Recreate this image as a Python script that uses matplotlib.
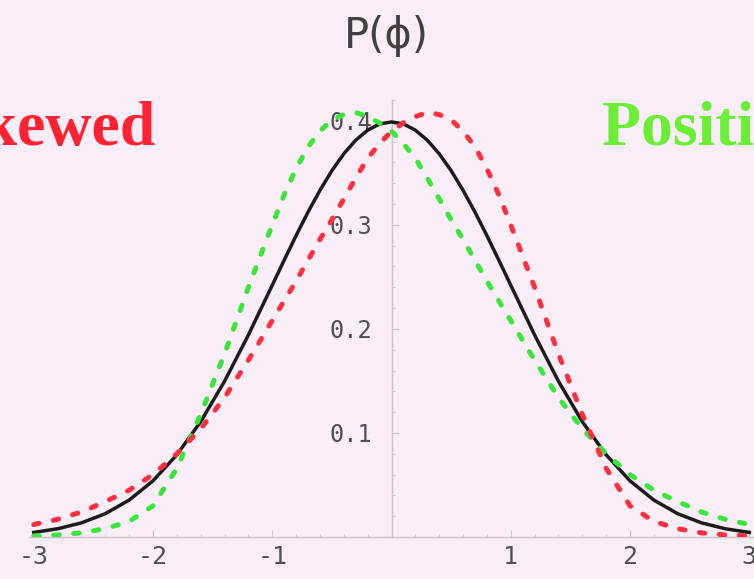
import matplotlib
matplotlib.use('Agg')
import matplotlib.pyplot as plt
from matplotlib.ticker import MultipleLocator

# sample points along phi (finer spacing near the peak)
phi = [-3.0, -2.8, -2.6, -2.4, -2.2, -2.0, -1.8, -1.6, -1.4, -1.2,
       -1.0, -0.9, -0.8, -0.7, -0.6, -0.5, -0.4, -0.3, -0.2, -0.1, 0.0,
       0.1, 0.2, 0.3, 0.4, 0.5, 0.6, 0.7, 0.8, 0.9, 1.0,
       1.2, 1.4, 1.6, 1.8, 2.0, 2.2, 2.4, 2.6, 2.8, 3.0]

# symmetric (normal) curve
p_normal = [0.0044, 0.0079, 0.0136, 0.0224, 0.0355, 0.0540, 0.0790, 0.1109,
            0.1497, 0.1942,
            0.2420, 0.2661, 0.2897, 0.3123, 0.3332, 0.3521, 0.3683, 0.3814,
            0.3910, 0.3970, 0.3989,
            0.3970, 0.3910, 0.3814, 0.3683, 0.3521, 0.3332, 0.3123, 0.2897,
            0.2661, 0.2420,
            0.1942, 0.1497, 0.1109, 0.0790, 0.0540, 0.0355, 0.0224, 0.0136,
            0.0079, 0.0044]

# positively skewed curve (green)
p_positive = [0.001, 0.002, 0.004, 0.008, 0.015, 0.030, 0.066, 0.118,
              0.176, 0.240,
              0.300, 0.329, 0.354, 0.375, 0.390, 0.401, 0.406, 0.408,
              0.404, 0.398, 0.390,
              0.378, 0.364, 0.345, 0.325, 0.305, 0.286, 0.266, 0.246,
              0.227, 0.208,
              0.170, 0.134, 0.104, 0.080, 0.060, 0.045, 0.034, 0.024,
              0.017, 0.012]

# negatively skewed curve (red)
p_negative = [0.012, 0.017, 0.024, 0.034, 0.045, 0.060, 0.080, 0.104,
              0.134, 0.170,
              0.208, 0.227, 0.246, 0.266, 0.286, 0.305, 0.325, 0.345,
              0.364, 0.378, 0.390,
              0.398, 0.404, 0.408, 0.406, 0.401, 0.390, 0.375, 0.354,
              0.329, 0.300,
              0.240, 0.176, 0.118, 0.066, 0.030, 0.015, 0.008, 0.004,
              0.002, 0.001]

x_ticks = [-3, -2, -1, 1, 2, 3]
y_ticks = [0.1, 0.2, 0.3, 0.4]

BG = '#f9edf7'
AXIS = '#cbc2cb'
RED = '#ff2f3f'
GREEN = '#3be63b'

fig = plt.figure(figsize=(7.54, 5.79), dpi=100, facecolor=BG)
ax = fig.add_axes([29/754., 42/579., 725/754., 437/579.])
ax.set_facecolor(BG)

ax.plot(phi, p_normal, color='#1c1c1c', lw=2.5, zorder=3)
ax.plot(phi, p_positive, color=GREEN, lw=3.6, dashes=(1.1, 2.9),
        dash_capstyle='round', zorder=4)
ax.plot(phi, p_negative, color=RED, lw=3.6, dashes=(1.1, 2.9),
        dash_capstyle='round', zorder=5)

ax.set_xlim(-3.04, 3.04)
ax.set_ylim(0, 0.42)

# Mathematica style axes crossing at origin
for s in ('top', 'right'):
    ax.spines[s].set_visible(False)
ax.spines['left'].set_position(('data', 0))
ax.spines['bottom'].set_position(('data', 0))
for s in ('left', 'bottom'):
    ax.spines[s].set_color(AXIS)
    ax.spines[s].set_linewidth(1.0)

ax.set_xticks(x_ticks)
ax.set_yticks(y_ticks)
ax.set_xticklabels(['%d' % t for t in x_ticks])
ax.set_yticklabels(['%.1f' % t for t in y_ticks])
ax.xaxis.set_minor_locator(MultipleLocator(0.2))
ax.yaxis.set_minor_locator(MultipleLocator(0.02))
ax.tick_params(which='major', direction='in', length=5, color=AXIS,
               labelcolor='#505050')
ax.tick_params(which='minor', direction='in', length=2.5, color=AXIS)
ax.tick_params(axis='x', pad=6, labelsize=18)
ax.tick_params(axis='y', pad=14, labelsize=17)
for lab in ax.get_xticklabels() + ax.get_yticklabels():
    lab.set_fontfamily('DejaVu Sans Mono')

fig.text(386/754., 1 - 36/579., u'P(\u03d5)', ha='center', va='center',
         fontsize=30, color='#404040', family='DejaVu Sans')
fig.text(155/754., 1 - 145/579., 'Negatively Skewed', ha='right',
         va='baseline', fontsize=46, fontweight='bold', color='#ff2232',
         family='Liberation Serif')
fig.text(602/754., 1 - 145/579., 'Positively Skewed', ha='left',
         va='baseline', fontsize=46, fontweight='bold', color='#6bee36',
         family='Liberation Serif')

fig.savefig('out.png', dpi=100, facecolor=BG)
